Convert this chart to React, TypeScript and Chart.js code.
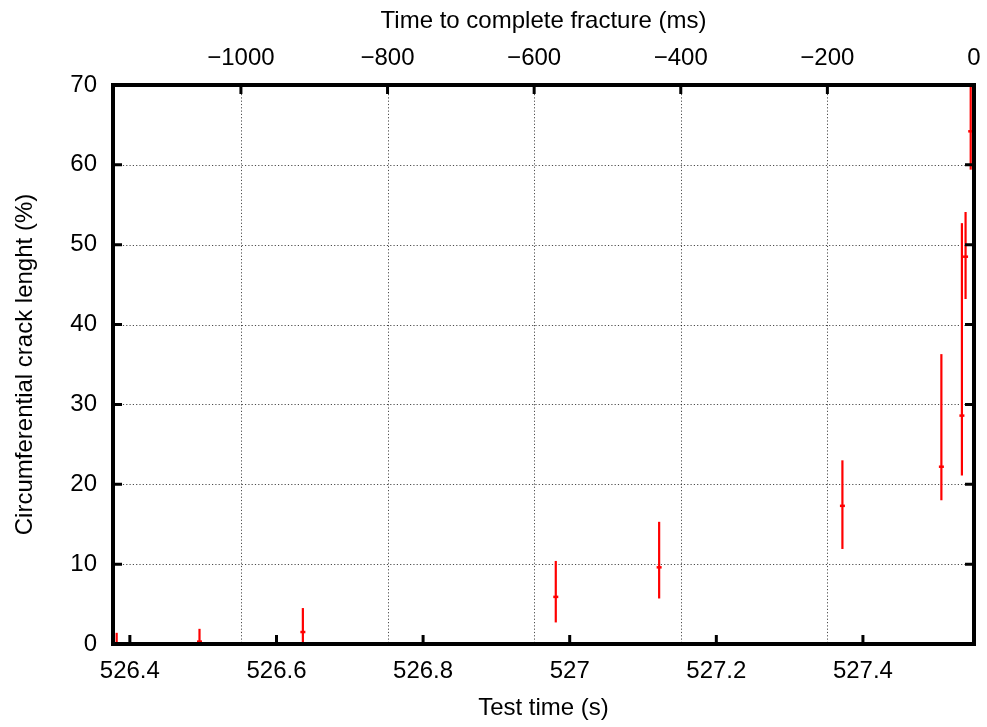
import React, { useEffect, useRef } from 'react';
import { Chart, registerables } from 'chart.js';

Chart.register(...registerables);

// ---- Data ----
const testTime = [526.382, 526.495, 526.636, 526.981, 527.122, 527.372, 527.507, 527.535, 527.540, 527.547];
const crackLength = [0, 0.3, 1.5, 5.9, 9.6, 17.3, 22.2, 28.6, 48.5, 64.2];
const crackLow = [-1.4, -1.3, -1.5, 2.7, 5.7, 11.9, 18.0, 21.1, 43.2, 59.4];
const crackHigh = [1.4, 1.9, 4.5, 10.4, 15.3, 23.0, 36.3, 52.7, 54.1, 70.5];

// ---- Axes ----
const xMin = 526.377;
const xMax = 527.5515;
const bottomTicks = [526.4, 526.6, 526.8, 527, 527.2, 527.4];
const topMin = -1174.5;
const topMax = 0;
const topTicks = [-1000, -800, -600, -400, -200, 0];
const yMin = 0;
const yMax = 70;
const yTicks = [0, 10, 20, 30, 40, 50, 60, 70];

const FONT = '"Liberation Sans", Arial, Helvetica, sans-serif';
const RED = '#ff0000';

const fmt = (v: number) => {
  const s = String(Number(v.toFixed(1)));
  return v < 0 ? '\u2212' + s.slice(1) : s;
};

const zeroPad = (s: any) => {
  s.paddingLeft = 0;
  s.paddingRight = 0;
  s.paddingTop = 0;
  s.paddingBottom = 0;
};

const framePlugin = {
  id: 'gnuFrame',
  beforeDatasetsDraw(chart: any) {
    const { ctx, chartArea: a, scales } = chart;
    ctx.save();
    // dotted grid
    ctx.strokeStyle = 'rgba(0,0,0,0.7)';
    ctx.lineWidth = 1;
    ctx.setLineDash([1.2, 2.1]);
    for (const v of yTicks) {
      if (v <= yMin || v >= yMax) continue;
      const y = Math.round(scales.y.getPixelForValue(v)) + 0.5;
      ctx.beginPath();
      ctx.moveTo(a.left, y);
      ctx.lineTo(a.right - 9, y);
      ctx.stroke();
    }
    for (const v of topTicks) {
      if (v <= topMin || v >= topMax) continue;
      const x = Math.round(scales.x2.getPixelForValue(v)) + 0.5;
      ctx.beginPath();
      ctx.moveTo(x, a.top + 9);
      ctx.lineTo(x, a.bottom);
      ctx.stroke();
    }
    ctx.setLineDash([]);
    // error bars
    ctx.beginPath();
    ctx.rect(a.left, a.top, a.right - a.left, a.bottom - a.top);
    ctx.clip();
    ctx.strokeStyle = RED;
    ctx.lineWidth = 2.2;
    for (let i = 0; i < testTime.length; i++) {
      const x = scales.x.getPixelForValue(testTime[i]);
      const y1 = scales.y.getPixelForValue(crackLow[i]);
      const y2 = scales.y.getPixelForValue(crackHigh[i]);
      ctx.beginPath();
      ctx.moveTo(x, y1);
      ctx.lineTo(x, y2);
      ctx.stroke();
    }
    ctx.restore();
  },
  afterDatasetsDraw(chart: any) {
    const { ctx, chartArea: a, scales } = chart;
    ctx.save();
    ctx.strokeStyle = '#000';
    // ticks (inward)
    ctx.lineWidth = 3;
    const tl = 9;
    for (const v of yTicks) {
      if (v <= yMin || v >= yMax) continue;
      const y = scales.y.getPixelForValue(v);
      ctx.beginPath();
      ctx.moveTo(a.left, y);
      ctx.lineTo(a.left + tl, y);
      ctx.moveTo(a.right, y);
      ctx.lineTo(a.right - tl, y);
      ctx.stroke();
    }
    for (const v of bottomTicks) {
      const x = scales.x.getPixelForValue(v);
      ctx.beginPath();
      ctx.moveTo(x, a.bottom);
      ctx.lineTo(x, a.bottom - tl);
      ctx.stroke();
    }
    for (const v of topTicks) {
      if (v <= topMin || v >= topMax) continue;
      const x = scales.x2.getPixelForValue(v);
      ctx.beginPath();
      ctx.moveTo(x, a.top);
      ctx.lineTo(x, a.top + tl);
      ctx.stroke();
    }
    // frame
    ctx.lineWidth = 4;
    ctx.strokeRect(a.left, a.top, a.right - a.left, a.bottom - a.top);
    ctx.restore();
  },
};

export default function App() {
  const ref = useRef<HTMLCanvasElement | null>(null);

  useEffect(() => {
    document.body.style.margin = '0';
    const canvas = ref.current;
    if (!canvas) return;
    const tickFont = { family: FONT, size: 24 };
    const chart = new Chart(canvas, {
      type: 'scatter',
      data: {
        datasets: [
          {
            label: 'crack',
            data: testTime.map((t, i) => ({ x: t, y: crackLength[i] })),
            xAxisID: 'x',
            yAxisID: 'y',
            pointStyle: 'line',
            radius: 2.5,
            borderWidth: 2.5,
            borderColor: RED,
            backgroundColor: RED,
          } as any,
        ],
      },
      options: {
        animation: false,
        responsive: false,
        devicePixelRatio: 1,
        layout: { padding: { left: 0, right: 13, top: 0, bottom: 0 } },
        plugins: { legend: { display: false }, tooltip: { enabled: false } },
        scales: {
          x: {
            type: 'linear',
            position: 'bottom',
            min: xMin,
            max: xMax,
            afterBuildTicks: (s: any) => {
              s.ticks = bottomTicks.map((v) => ({ value: v }));
            },
            afterFit: (s: any) => {
              s.height = 83;
              zeroPad(s);
            },
            grid: { display: false, drawTicks: false },
            border: { display: false },
            ticks: { font: tickFont, color: '#000', padding: 13, maxRotation: 0, autoSkip: false, callback: (v: any) => fmt(Number(v)) },
            title: { display: true, text: 'Test time (s)', font: tickFont, color: '#000', padding: { top: 0, bottom: 4 } },
          },
          x2: {
            type: 'linear',
            axis: 'x',
            position: 'top',
            min: topMin,
            max: topMax,
            afterBuildTicks: (s: any) => {
              s.ticks = topTicks.map((v) => ({ value: v }));
            },
            afterFit: (s: any) => {
              s.height = 85;
              zeroPad(s);
            },
            grid: { display: false, drawTicks: false },
            border: { display: false },
            ticks: { font: tickFont, color: '#000', padding: 12, maxRotation: 0, autoSkip: false, callback: (v: any) => fmt(Number(v)) },
            title: { display: true, text: 'Time to complete fracture (ms)', font: tickFont, color: '#000', padding: { top: 7, bottom: 0 } },
          } as any,
          y: {
            type: 'linear',
            position: 'left',
            min: yMin,
            max: yMax,
            afterBuildTicks: (s: any) => {
              s.ticks = yTicks.map((v) => ({ value: v }));
            },
            afterFit: (s: any) => {
              s.width = 113;
              zeroPad(s);
            },
            grid: { display: false, drawTicks: false },
            border: { display: false },
            ticks: { font: tickFont, color: '#000', padding: 16, autoSkip: false, callback: (v: any) => fmt(Number(v)) },
            title: { display: true, text: 'Circumferential crack lenght (%)', font: tickFont, color: '#000', padding: { top: 11, bottom: 0 } },
          },
        },
      },
      plugins: [framePlugin],
    });
    return () => chart.destroy();
  }, []);

  return (
    <div style={{ width: 987, height: 727, background: '#fff' }}>
      <canvas ref={ref} width={987} height={727} style={{ display: 'block', width: 987, height: 727 }} />
    </div>
  );
}
